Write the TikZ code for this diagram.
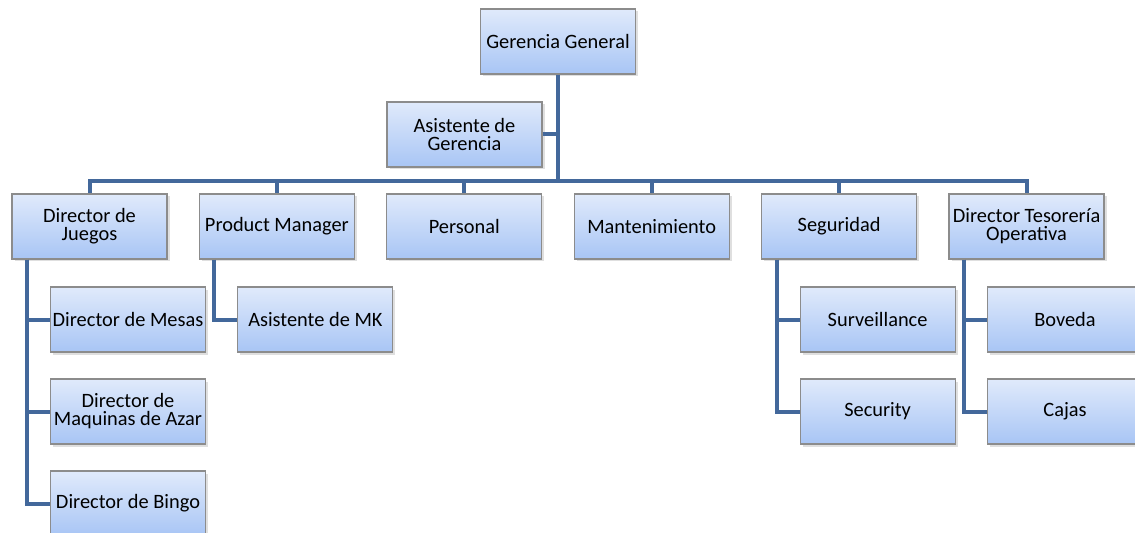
\documentclass[tikz,border=0pt]{standalone}
\usepackage{fontspec}
\setmainfont{Carlito}
\usepackage{tikz}
\usetikzlibrary{positioning,shadows}
\definecolor{linkblue}{HTML}{43689B}
\definecolor{boxtop}{HTML}{E0EAFB}
\definecolor{boxbottom}{HTML}{A8C5F5}
\definecolor{boxline}{HTML}{8C8C8C}

\begin{document}
\begin{tikzpicture}[
    auto,
    node distance=3.748cm,
    font=\fontsize{11.6}{10.2}\selectfont,
    unit/.style={
		rectangle,
		draw=boxline,
		line width=0.6pt,
		top color=boxtop,
		bottom color=boxbottom,
		align=center,
		inner sep=0pt,
		minimum width=3.1cm,
		minimum height=1.3cm,
		drop shadow={shadow xshift=0.05cm, shadow yshift=-0.05cm, opacity=0.25}
	},
	link/.style={
		draw=linkblue,
		line width=0.08cm,
		line join=miter
	}
  ]
  \useasboundingbox (0,0) rectangle (22.7,-10.66);
    % We start by placing the blocks

  \node [unit] (gg) at (11.16,-0.83) {Gerencia General};
  \node [unit, below of=gg, node distance=1.86cm, xshift=-1.87cm] (ag) {Asistente de\\Gerencia};
  \coordinate [below of=gg, node distance=2.79cm] (bus);

  \node [unit, below of=gg, node distance=3.7cm, xshift=-9.37cm] (juegos) {Director de\\Juegos};
  \node [unit, right of=juegos] (product) {Product Manager};
  \node [unit, right of=product] (personal) {Personal};
  \node [unit, right of=personal] (mant) {Mantenimiento};
  \node [unit, right of=mant] (seguridad) {Seguridad};
  \node [unit, right of=seguridad] (tesoreria) {Director Tesorería\\Operativa};

  % second level
  \node [unit, below of=juegos, node distance=1.86cm, xshift=0.77cm] (mesas) {Director de Mesas};
  \node [unit, below of=mesas, node distance=1.84cm] (maquinas) {Director de\\Maquinas de Azar};
  \node [unit, below of=maquinas, node distance=1.84cm] (bingo) {Director de Bingo};

  \node [unit, below of=product, node distance=1.86cm, xshift=0.77cm] (mk) {Asistente de MK};

  \node [unit, below of=seguridad, node distance=1.86cm, xshift=0.77cm] (surv) {Surveillance};
  \node [unit, below of=surv, node distance=1.84cm] (security) {Security};

  \node [unit, below of=tesoreria, node distance=1.86cm, xshift=0.77cm] (boveda) {Boveda};
  \node [unit, below of=boveda, node distance=1.84cm] (cajas) {Cajas};

  % connectors
  \draw [link] (gg.south) -- (bus);
  \draw [link] (ag.east) -- (ag.east -| gg.south);
  \foreach \d in {juegos,product,personal,mant,seguridad,tesoreria}
    \draw [link] (bus) -| (\d.north);
  \foreach \c in {mesas,maquinas,bingo}
    \draw [link] ([xshift=0.31cm]juegos.south west) |- (\c.west);
  \draw [link] ([xshift=0.31cm]product.south west) |- (mk.west);
  \foreach \c in {surv,security}
    \draw [link] ([xshift=0.31cm]seguridad.south west) |- (\c.west);
  \foreach \c in {boveda,cajas}
    \draw [link] ([xshift=0.31cm]tesoreria.south west) |- (\c.west);

\end{tikzpicture}
\end{document}
